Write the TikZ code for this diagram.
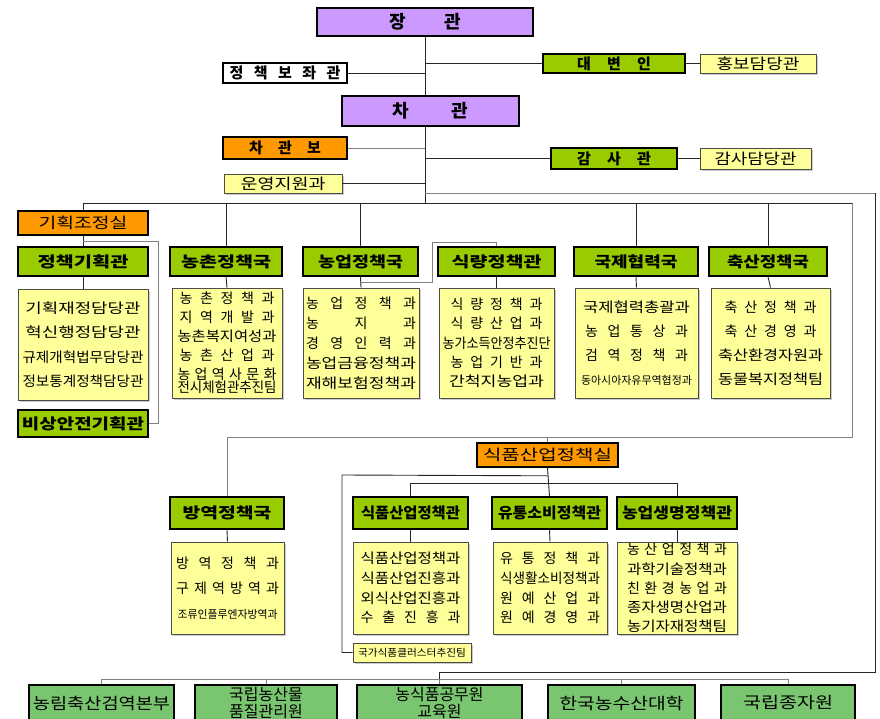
\documentclass[tikz,border=0pt]{standalone}
\usepackage{fontspec}
\setmainfont{Noto Sans CJK KR}
\usepackage{graphicx}
\usepackage{tikz}
\usetikzlibrary{shadows}
\newcommand{\FitTo}[2][\linewidth]{\resizebox{#1}{\height}{#2}}
\newcommand{\SpreadTo}[2][\linewidth]{\makebox[#1][s]{\spaceskip=0.2em plus 1fil\relax #2}}
\definecolor{chiefc}{HTML}{CC99FF}
\definecolor{limec}{HTML}{99CC00}
\definecolor{orangec}{HTML}{FF9900}
\definecolor{palec}{HTML}{FFFF99}
\definecolor{agencyc}{RGB}{122,198,112}

\begin{document}
\begin{tikzpicture}[x=1pt, y=-1pt,
  line/.style={draw=black!85, line width=0.9pt},
  gline/.style={draw=black!50, line width=0.9pt},
  chief/.style={draw=black, line width=1.6pt, fill=chiefc, inner sep=0pt, font=\fontsize{18}{20}\selectfont\bfseries},
  aidebox/.style={draw=black, line width=1.6pt, fill=white, inner sep=0pt, font=\fontsize{15}{17}\selectfont\bfseries},
  head/.style={draw=black, line width=1.6pt, fill=limec, inner sep=0pt, font=\fontsize{15}{17}\selectfont\bfseries},
  office/.style={draw=black, line width=1.6pt, fill=orangec, inner sep=0pt, font=\fontsize{15}{17}\selectfont\bfseries},
  note/.style={draw=black!70, line width=0.8pt, fill=palec, inner sep=0pt, font=\fontsize{15}{17}\selectfont,
    drop shadow={shadow xshift=2pt, shadow yshift=-2pt, fill=black!35, opacity=0.6}},
  unit/.style={note, align=center, font=\fontsize{14}{19}\selectfont},
  agency/.style={draw=black, line width=1.4pt, fill=agencyc, inner sep=0pt, align=center, font=\fontsize{16}{17}\selectfont}]

\useasboundingbox (0,0) rectangle (880,719);

% top offices
\node[chief, minimum width=216pt, minimum height=28pt] (minister) at (425,22) {\SpreadTo[72pt]{장 관}};
\node[aidebox, minimum width=124pt, minimum height=20pt] (aide) at (285,73) {\SpreadTo[111pt]{정 책 보 좌 관}};
\node[head, minimum width=142pt, minimum height=19pt] (spokes) at (614,63.5) {\SpreadTo[74pt]{대 변 인}};
\node[note, minimum width=116pt, minimum height=19pt] (pr) at (758,63.5) {\FitTo[83pt]{홍보담당관}};
\node[chief, minimum width=177pt, minimum height=30pt] (vice) at (430.5,111) {\SpreadTo[76pt]{차 관}};
\node[office, minimum width=124pt, minimum height=22pt] (vaux) at (285,148) {\SpreadTo[72pt]{차 관 보}};
\node[head, minimum width=126pt, minimum height=21pt] (audit) at (614,158.5) {\SpreadTo[74pt]{감 사 관}};
\node[note, minimum width=111pt, minimum height=21pt] (auditoff) at (755.5,158.5) {\FitTo[82pt]{감사담당관}};
\node[note, minimum width=118pt, minimum height=19pt] (ops) at (283,183.5) {\FitTo[85pt]{운영지원과}};

% bureaus
\node[office, minimum width=130pt, minimum height=24pt, font=\fontsize{15}{17}\selectfont] (coord) at (83,223) {\FitTo[89pt]{기획조정실}};
\node[head, minimum width=130pt, minimum height=29pt] (plan) at (83,261.5) {\FitTo[91pt]{정책기획관}};
\node[head, minimum width=112pt, minimum height=29pt] (rural) at (226,261.5) {\FitTo[90pt]{농촌정책국}};
\node[head, minimum width=115pt, minimum height=29pt] (agri) at (360.5,261.5) {\FitTo[85pt]{농업정책국}};
\node[head, minimum width=117pt, minimum height=29pt] (food) at (496.5,261.5) {\FitTo[90pt]{식량정책관}};
\node[head, minimum width=124pt, minimum height=29pt] (intl) at (636,261.5) {\FitTo[83pt]{국제협력국}};
\node[head, minimum width=118pt, minimum height=29pt] (live) at (768,261.5) {\FitTo[82pt]{축산정책국}};
\node[head, minimum width=130pt, minimum height=27pt] (emerg) at (83,423.5) {\FitTo[122pt]{비상안전기획관}};

\node[unit, minimum width=130pt, minimum height=111pt, text width=121pt, font=\fontsize{14}{24.5}\selectfont] (planL) at (83,344.5)
  {\FitTo[115pt]{기획재정담당관}\\ \FitTo[115pt]{혁신행정담당관}\\ \FitTo{규제개혁법무담당관}\\ \FitTo{정보통계정책담당관}};
\node[unit, minimum width=110pt, minimum height=110pt, text width=99pt] (ruralL) at (227,343)
  {\SpreadTo[95pt]{농 촌 정 책 과}\\ \SpreadTo[95pt]{지 역 개 발 과}\\ \FitTo{농촌복지여성과}\\ \SpreadTo[95pt]{농 촌 산 업 과}\\
   \SpreadTo{농 업 역 사 문 화}\\[-6pt] \FitTo{전시체험관추진팀}};
\node[unit, minimum width=116pt, minimum height=110pt, text width=110pt, font=\fontsize{14}{20}\selectfont] (agriL) at (361,343)
  {\SpreadTo{농 업 정 책 과}\\ \SpreadTo{농 지 과}\\ \SpreadTo{경 영 인 력 과}\\ \FitTo{농업금융정책과}\\ \FitTo{재해보험정책과}};
\node[unit, minimum width=115pt, minimum height=110pt, text width=108pt, font=\fontsize{14}{19.3}\selectfont] (foodL) at (496.5,343)
  {\SpreadTo[92pt]{식 량 정 책 과}\\ \SpreadTo[92pt]{식 량 산 업 과}\\ \FitTo{농가소득안정추진단}\\ \SpreadTo[92pt]{농 업 기 반 과}\\ \FitTo[95pt]{간척지농업과}};
\node[unit, minimum width=123pt, minimum height=110pt, text width=111pt, font=\fontsize{14}{24}\selectfont] (intlL) at (636.5,343)
  {\FitTo[107pt]{국제협력총괄과}\\ \SpreadTo[103pt]{농 업 통 상 과}\\ \SpreadTo[103pt]{검 역 정 책 과}\\ {\fontsize{11}{24}\selectfont\FitTo{동아시아자유무역협정과}}};
\node[unit, minimum width=119pt, minimum height=110pt, text width=105pt, font=\fontsize{14}{24}\selectfont] (liveL) at (770.5,343)
  {\SpreadTo[92pt]{축 산 정 책 과}\\ \SpreadTo[92pt]{축 산 경 영 과}\\ \FitTo{축산환경자원과}\\ \FitTo{동물복지정책팀}};

% food industry office
\node[office, minimum width=141pt, minimum height=24pt, font=\fontsize{15}{17}\selectfont] (fdiv) at (547.5,455) {\FitTo[129pt]{식품산업정책실}};
\node[head, minimum width=114pt, minimum height=32pt] (quar) at (227,513) {\FitTo[89pt]{방역정책국}};
\node[head, minimum width=115pt, minimum height=32pt] (fpol) at (410.5,513) {\FitTo[99pt]{식품산업정책관}};
\node[head, minimum width=115pt, minimum height=32pt] (dist) at (549.5,513) {\FitTo[103pt]{유통소비정책관}};
\node[head, minimum width=120pt, minimum height=32pt] (bio) at (677,513) {\FitTo[110pt]{농업생명정책관}};

\node[unit, minimum width=113pt, minimum height=92pt, text width=103pt, font=\fontsize{14}{25}\selectfont] (quarL) at (227.5,588)
  {\SpreadTo{방 역 정 책 과}\\ \SpreadTo{구 제 역 방 역 과}\\ {\fontsize{11}{25}\selectfont\FitTo[100pt]{조류인플루엔자방역과}}};
\node[unit, minimum width=115pt, minimum height=92pt, text width=100pt, font=\fontsize{14}{19.6}\selectfont] (fpolL) at (410.5,588)
  {\FitTo{식품산업정책과}\\ \FitTo{식품산업진흥과}\\ \FitTo{외식산업진흥과}\\ \SpreadTo{수 출 진 흥 과}};
\node[unit, minimum width=114pt, minimum height=92pt, text width=100pt, font=\fontsize{14}{19.6}\selectfont] (distL) at (550,588)
  {\SpreadTo{유 통 정 책 과}\\ \FitTo{식생활소비정책과}\\ \SpreadTo{원 예 산 업 과}\\ \SpreadTo{원 예 경 영 과}};
\node[unit, minimum width=120pt, minimum height=92pt, text width=100pt, font=\fontsize{14}{19.2}\selectfont] (bioL) at (677,588)
  {\SpreadTo{농 산 업 정 책 과}\\ \FitTo{과학기술정책과}\\ \SpreadTo{친 환 경 농 업 과}\\ \FitTo{종자생명산업과}\\ \FitTo{농기자재정책팀}};
\node[note, minimum width=118pt, minimum height=19pt, font=\fontsize{10}{12}\selectfont] (cluster) at (412,652.5) {\FitTo[108pt]{국가식품클러스터추진팀}};

% agencies
\node[agency, minimum width=145pt, minimum height=36pt] (b1) at (101.5,703) {\FitTo[137pt]{농림축산검역본부}};
\node[agency, minimum width=142pt, minimum height=36pt] (b2) at (266,703) {국립농산물\\품질관리원};
\node[agency, minimum width=165pt, minimum height=36pt] (b3) at (439.5,703) {농식품공무원\\교육원};
\node[agency, minimum width=147pt, minimum height=36pt] (b4) at (621.5,703) {\FitTo[124pt]{한국농수산대학}};
\node[agency, minimum width=134pt, minimum height=36pt] (b5) at (788,703) {\FitTo[90pt]{국립종자원}};

\coordinate (hub) at (425,203);
\coordinate (rowR) at (852,203);
\coordinate (lowR) at (852,437);
\coordinate (agtop) at (875,193);
\coordinate (agbot) at (875,672);
\coordinate (fbar) at (0,483);
\coordinate (bbar) at (0,679);

% spine
\draw[line] (minister.south) -- (minister.south |- vice.north);
\draw[line] (minister.south |- vice.south) -- (hub);
\draw[line] (aide.east) -- (aide.east -| minister.south);
\draw[line] (minister.south |- spokes.west) -- (spokes.west);
\draw[line] (spokes) -- (pr);
\draw[gline] (vaux.east) -- (vaux.east -| minister.south);
\draw[line] (minister.south |- audit.west) -- (audit.west);
\draw[line] (audit) -- (auditoff);
\draw[line] (ops.east) -- (ops.east -| minister.south);
\draw[gline] (minister.south |- agtop) -- (agtop);
\draw[line] (agtop) -- (agbot) -| (b3.north |- bbar);

% bureaus
\draw[line] (coord.north |- hub) -- (rowR);
\draw[line] (coord.north |- hub) -- (coord.north);
\foreach \d in {rural, agri, intl, live}
  \draw[line] (\d.north |- hub) -- (\d.north);
\draw[line] (coord.south) -- (plan.north);
\draw[gline] (coord.south) ++(0,6) -- ++(75,0) |- (emerg.east);
\draw[gline] (agri.south) ++(0,6) -- ++(72,0) -- ++(0,-40) -| (food.north);
\foreach \d in {plan, rural, agri, food, intl, live}
  \draw[line] (\d.south) -- (\d L.north);

% lower part
\draw[gline] (rowR) -- (lowR) -| (quar.north);
\draw[gline] (fdiv.north |- lowR) -- (fdiv.north);
\draw[line] (fdiv.south) -- (dist.north);
\draw[line] (fpol.north) |- (bio.north |- fbar) -- (bio.north);
\draw[line] (fdiv.south) ++(0,8) -- (342,475) |- (cluster.west);
\foreach \d in {quar, fpol, dist, bio}
  \draw[line] (\d.south) -- (\d L.north);

% agencies bar
\draw[gline] (b1.north) -- (b1.north |- bbar) -- (b5.north |- bbar) -- (b5.north);
\foreach \b in {b2, b3, b4}
  \draw[gline] (\b.north |- bbar) -- (\b.north);

\end{tikzpicture}
\end{document}
